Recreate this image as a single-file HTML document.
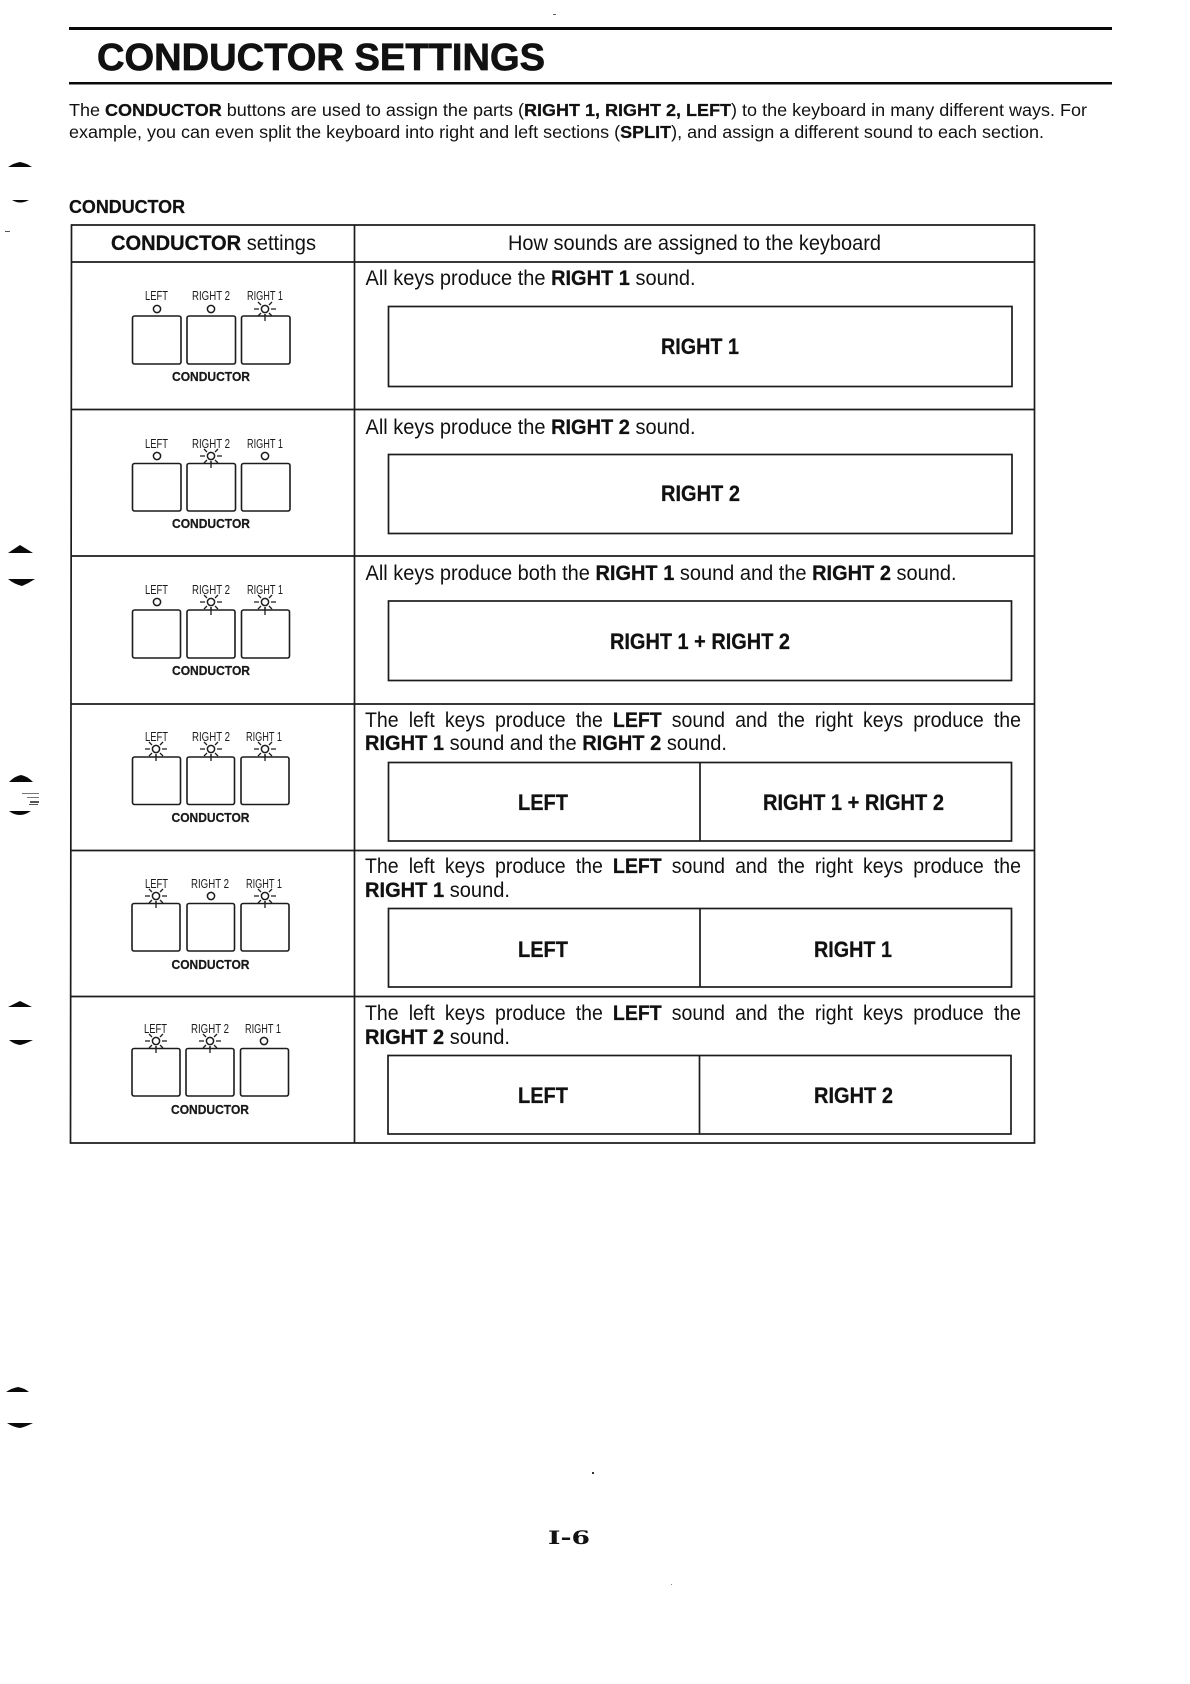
<!DOCTYPE html>
<html><head><meta charset="utf-8"><style>
html,body{margin:0;padding:0;background:#fff;width:1190px;height:1684px;overflow:hidden}
svg{display:block}
text{font-family:"Liberation Sans",Arial,sans-serif;fill:#111}
.b,.k,.c{font-weight:bold;stroke:#111;stroke-width:.25}
.l{font-size:12.5px;fill:#1c1c1c}
.c{font-size:12.5px;fill:#1a1a1a}
.t{font-size:21px}
.k{font-size:22px}
.ln{stroke:#1c1c1c;stroke-width:1.7;fill:none}
.btn{stroke:#1c1c1c;stroke-width:1.6;fill:#fff}
</style></head><body>
<svg width="1190" height="1684" viewBox="0 0 1190 1684" xmlns="http://www.w3.org/2000/svg">
<defs>
<g id="off"><circle r="3.6" fill="#fff" stroke="#1c1c1c" stroke-width="1.5"/></g>
<g id="on"><circle r="3.6" fill="#fff" stroke="#1c1c1c" stroke-width="1.5"/><path d="M-11 0H-6M6 0H11M-7 -7L-4 -4M7 -7L4 -4M-7 7L-4 4M7 7L4 4M0 5V12" stroke="#1c1c1c" stroke-width="1.3" fill="none"/></g>
</defs>
<rect width="1190" height="1684" fill="#fff"/>
<rect x="69" y="27" width="1043" height="3" fill="#0a0a0a"/>
<rect x="69" y="82" width="1043" height="2.5" fill="#0a0a0a"/>
<text x="97" y="70" class="b" style="stroke-width:.7" font-size="38" textLength="448" lengthAdjust="spacingAndGlyphs">CONDUCTOR SETTINGS</text>
<text x="69" y="116" font-size="17.5" textLength="1018" lengthAdjust="spacingAndGlyphs">The <tspan class="b">CONDUCTOR</tspan> buttons are used to assign the parts (<tspan class="b">RIGHT 1, RIGHT 2, LEFT</tspan>) to the keyboard in many different ways. For</text>
<text x="69" y="138" font-size="17.5" textLength="975" lengthAdjust="spacingAndGlyphs">example, you can even split the keyboard into right and left sections (<tspan class="b">SPLIT</tspan>), and assign a different sound to each section.</text>
<text x="69" y="213" class="b" font-size="18" textLength="116" lengthAdjust="spacingAndGlyphs">CONDUCTOR</text>

<!-- table -->
<path class="ln" d="M71.5 225H1034.5V1143H70.5Z"/>
<path class="ln" d="M71 262H1034.5M71 409.5H1034.5M71 556H1034.5M71 704H1034.5M71 850.5H1034.5M70.5 996.5H1034.5M354.5 225V1143"/>

<text x="111" y="250" class="t" textLength="205" lengthAdjust="spacingAndGlyphs"><tspan class="b">CONDUCTOR</tspan> settings</text>
<text x="508" y="250" class="t" textLength="373" lengthAdjust="spacingAndGlyphs">How sounds are assigned to the keyboard</text>

<!-- row 1 -->
<text x="365.5" y="285" class="t" textLength="330" lengthAdjust="spacingAndGlyphs">All keys produce the <tspan class="b">RIGHT 1</tspan> sound.</text>
<rect class="ln" x="388.5" y="306.5" width="623.5" height="80"/>
<text x="661" y="354" class="k" textLength="78" lengthAdjust="spacingAndGlyphs">RIGHT 1</text>
<!-- row 2 -->
<text x="365.5" y="434" class="t" textLength="330" lengthAdjust="spacingAndGlyphs">All keys produce the <tspan class="b">RIGHT 2</tspan> sound.</text>
<rect class="ln" x="388.5" y="454.5" width="623.5" height="79"/>
<text x="661" y="501" class="k" textLength="79" lengthAdjust="spacingAndGlyphs">RIGHT 2</text>
<!-- row 3 -->
<text x="365.5" y="580" class="t" textLength="591" lengthAdjust="spacingAndGlyphs">All keys produce both the <tspan class="b">RIGHT 1</tspan> sound and the <tspan class="b">RIGHT 2</tspan> sound.</text>
<rect class="ln" x="388.5" y="601" width="623" height="79.5"/>
<text x="610" y="649" class="k" textLength="180" lengthAdjust="spacingAndGlyphs">RIGHT 1 + RIGHT 2</text>
<!-- row 4 -->
<text x="365" y="727" class="t" word-spacing="5" textLength="656" lengthAdjust="spacingAndGlyphs">The left keys produce the <tspan class="b">LEFT</tspan> sound and the right keys produce the</text>
<text x="365" y="750" class="t" textLength="362" lengthAdjust="spacingAndGlyphs"><tspan class="b">RIGHT 1</tspan> sound and the <tspan class="b">RIGHT 2</tspan> sound.</text>
<rect class="ln" x="388.5" y="762.5" width="623" height="78.5"/>
<path class="ln" d="M700 762.5V841"/>
<text x="518" y="810" class="k" textLength="50" lengthAdjust="spacingAndGlyphs">LEFT</text>
<text x="763" y="810" class="k" textLength="181" lengthAdjust="spacingAndGlyphs">RIGHT 1 + RIGHT 2</text>
<!-- row 5 -->
<text x="365" y="873" class="t" word-spacing="5" textLength="656" lengthAdjust="spacingAndGlyphs">The left keys produce the <tspan class="b">LEFT</tspan> sound and the right keys produce the</text>
<text x="365" y="897" class="t" textLength="145" lengthAdjust="spacingAndGlyphs"><tspan class="b">RIGHT 1</tspan> sound.</text>
<rect class="ln" x="388.5" y="908.5" width="623" height="78.5"/>
<path class="ln" d="M700 908.5V987"/>
<text x="518" y="957" class="k" textLength="50" lengthAdjust="spacingAndGlyphs">LEFT</text>
<text x="814" y="957" class="k" textLength="78" lengthAdjust="spacingAndGlyphs">RIGHT 1</text>
<!-- row 6 -->
<text x="365" y="1020" class="t" word-spacing="5" textLength="656" lengthAdjust="spacingAndGlyphs">The left keys produce the <tspan class="b">LEFT</tspan> sound and the right keys produce the</text>
<text x="365" y="1044" class="t" textLength="145" lengthAdjust="spacingAndGlyphs"><tspan class="b">RIGHT 2</tspan> sound.</text>
<rect class="ln" x="388" y="1055.5" width="623" height="78.5"/>
<path class="ln" d="M699.5 1055.5V1134"/>
<text x="518" y="1103" class="k" textLength="50" lengthAdjust="spacingAndGlyphs">LEFT</text>
<text x="814" y="1103" class="k" textLength="79" lengthAdjust="spacingAndGlyphs">RIGHT 2</text>

<!-- left panels -->
<g>
<text x="145" y="300" class="l" textLength="23" lengthAdjust="spacingAndGlyphs">LEFT</text>
<text x="192" y="300" class="l" textLength="38" lengthAdjust="spacingAndGlyphs">RIGHT 2</text>
<text x="247" y="300" class="l" textLength="36" lengthAdjust="spacingAndGlyphs">RIGHT 1</text>
<use href="#off" x="157" y="309"/><use href="#off" x="211" y="309"/><use href="#on" x="265" y="309"/>
<rect class="btn" x="132.5" y="316" width="48.5" height="48" rx="2"/><rect class="btn" x="187" y="316" width="48.5" height="48" rx="2"/><rect class="btn" x="241.5" y="316" width="48.5" height="48" rx="2"/>
<path d="M265 314V321" stroke="#1c1c1c" stroke-width="1.3"/>
<text x="172" y="381" class="c" textLength="78" lengthAdjust="spacingAndGlyphs">CONDUCTOR</text>
</g>
<g>
<text x="145" y="448" class="l" textLength="23" lengthAdjust="spacingAndGlyphs">LEFT</text>
<text x="192" y="448" class="l" textLength="38" lengthAdjust="spacingAndGlyphs">RIGHT 2</text>
<text x="247" y="448" class="l" textLength="36" lengthAdjust="spacingAndGlyphs">RIGHT 1</text>
<use href="#off" x="157" y="456"/><use href="#on" x="211" y="456"/><use href="#off" x="265" y="456"/>
<rect class="btn" x="132.5" y="463.5" width="48.5" height="47.5" rx="2"/><rect class="btn" x="187" y="463.5" width="48.5" height="47.5" rx="2"/><rect class="btn" x="241.5" y="463.5" width="48.5" height="47.5" rx="2"/>
<path d="M211 461V468" stroke="#1c1c1c" stroke-width="1.3"/>
<text x="172" y="528" class="c" textLength="78" lengthAdjust="spacingAndGlyphs">CONDUCTOR</text>
</g>
<g>
<text x="145" y="594" class="l" textLength="23" lengthAdjust="spacingAndGlyphs">LEFT</text>
<text x="192" y="594" class="l" textLength="38" lengthAdjust="spacingAndGlyphs">RIGHT 2</text>
<text x="247" y="594" class="l" textLength="36" lengthAdjust="spacingAndGlyphs">RIGHT 1</text>
<use href="#off" x="157" y="602"/><use href="#on" x="211" y="602"/><use href="#on" x="265" y="602"/>
<rect class="btn" x="132.5" y="610" width="48" height="48" rx="2"/><rect class="btn" x="187" y="610" width="48" height="48" rx="2"/><rect class="btn" x="241.5" y="610" width="48" height="48" rx="2"/>
<path d="M211 607V615M265 607V615" stroke="#1c1c1c" stroke-width="1.3"/>
<text x="172" y="675" class="c" textLength="78" lengthAdjust="spacingAndGlyphs">CONDUCTOR</text>
</g>
<g>
<text x="145" y="741" class="l" textLength="23" lengthAdjust="spacingAndGlyphs">LEFT</text>
<text x="192" y="741" class="l" textLength="38" lengthAdjust="spacingAndGlyphs">RIGHT 2</text>
<text x="246" y="741" class="l" textLength="36" lengthAdjust="spacingAndGlyphs">RIGHT 1</text>
<use href="#on" x="156" y="749"/><use href="#on" x="211" y="749"/><use href="#on" x="265" y="749"/>
<rect class="btn" x="132.5" y="757" width="48" height="47.5" rx="2"/><rect class="btn" x="187" y="757" width="47.5" height="47.5" rx="2"/><rect class="btn" x="241" y="757" width="48" height="47.5" rx="2"/>
<path d="M156 754V761M211 754V761M265 754V761" stroke="#1c1c1c" stroke-width="1.3"/>
<text x="171.5" y="822" class="c" textLength="78" lengthAdjust="spacingAndGlyphs">CONDUCTOR</text>
</g>
<g>
<text x="145" y="888" class="l" textLength="23" lengthAdjust="spacingAndGlyphs">LEFT</text>
<text x="191" y="888" class="l" textLength="38" lengthAdjust="spacingAndGlyphs">RIGHT 2</text>
<text x="246" y="888" class="l" textLength="36" lengthAdjust="spacingAndGlyphs">RIGHT 1</text>
<use href="#on" x="156" y="896"/><use href="#off" x="211" y="896"/><use href="#on" x="265" y="896"/>
<rect class="btn" x="132" y="903.5" width="48" height="47.5" rx="2"/><rect class="btn" x="187" y="903.5" width="47.5" height="47.5" rx="2"/><rect class="btn" x="241" y="903.5" width="48" height="47.5" rx="2"/>
<path d="M156 901V908M265 901V908" stroke="#1c1c1c" stroke-width="1.3"/>
<text x="171.5" y="969" class="c" textLength="78" lengthAdjust="spacingAndGlyphs">CONDUCTOR</text>
</g>
<g>
<text x="144" y="1033" class="l" textLength="23" lengthAdjust="spacingAndGlyphs">LEFT</text>
<text x="191" y="1033" class="l" textLength="38" lengthAdjust="spacingAndGlyphs">RIGHT 2</text>
<text x="245" y="1033" class="l" textLength="36" lengthAdjust="spacingAndGlyphs">RIGHT 1</text>
<use href="#on" x="156" y="1041"/><use href="#on" x="210" y="1041"/><use href="#off" x="264" y="1041"/>
<rect class="btn" x="132" y="1048.5" width="48" height="47.5" rx="2"/><rect class="btn" x="186" y="1048.5" width="48" height="47.5" rx="2"/><rect class="btn" x="240.5" y="1048.5" width="48" height="47.5" rx="2"/>
<path d="M156 1046V1053M210 1046V1053" stroke="#1c1c1c" stroke-width="1.3"/>
<text x="171" y="1114" class="c" textLength="78" lengthAdjust="spacingAndGlyphs">CONDUCTOR</text>
</g>

<!-- page number -->
<text x="548" y="1544" style="font-family:'DejaVu Serif',serif;font-weight:bold" font-size="19" textLength="42" lengthAdjust="spacingAndGlyphs">I-6</text>

<!-- punch-hole marks -->
<g fill="#0a0a0a">
<path d="M8 167Q14 163 20 162Q26 163 32 167Z"/>
<path d="M12 200H29Q20 205 12 200Z"/>
<path d="M8 553L20 545L33 553Z"/>
<path d="M8 579H35Q29 583 22 586Q14 584 8 579Z"/>
<path d="M9 782Q15 776 21 775Q27 776 33 782Z"/>
<path d="M9 811H31Q25 815 20 815Q14 815 9 811Z"/>
<path d="M8 1007L20 1001L32 1007Z"/>
<path d="M9 1040H33Q25 1044 20 1045Q14 1044 9 1040Z"/>
<path d="M6 1392Q12 1388 18 1387Q24 1388 29 1392Z"/>
<path d="M7 1423H33Q25 1427 20 1428Q13 1427 7 1423Z"/>
<rect x="22" y="793" width="17" height="1" fill="#777"/>
<rect x="27" y="797" width="12" height="1" fill="#777"/>
<rect x="30" y="801" width="9" height="2" fill="#555"/>
<rect x="29" y="804" width="9" height="1" fill="#555"/>
<rect x="5" y="231" width="5" height="1" fill="#555"/>
<rect x="553" y="14" width="3" height="1" fill="#666"/>
<rect x="592" y="1472" width="2" height="2" fill="#333"/>
<rect x="671" y="1584" width="1" height="1" fill="#888"/>
</g>
</svg>
</body></html>
